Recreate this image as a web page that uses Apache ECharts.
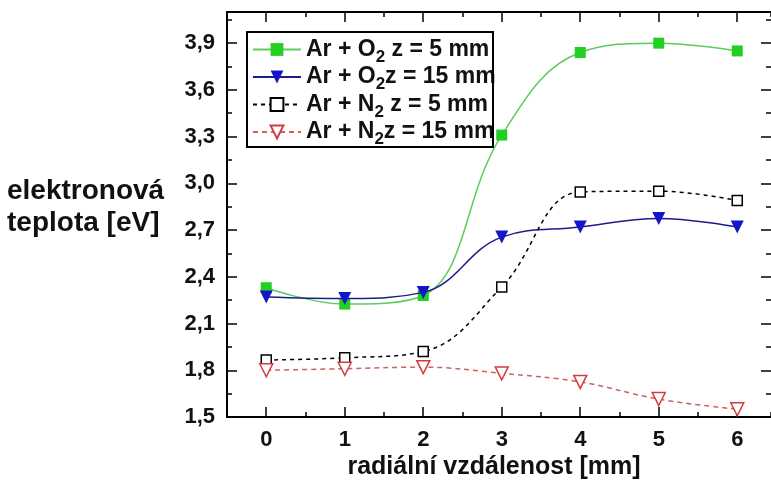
<!DOCTYPE html>
<html>
<head>
<meta charset="utf-8">
<script src="https://cdn.jsdelivr.net/npm/echarts@6/dist/echarts.min.js"></script>
<style>
  html, body { margin: 0; padding: 0; background: #fff; }
  #chart { width: 771px; height: 494px; }
</style>
</head>
<body>
<div id="chart"></div>
<script>
// radial distance [mm]
const distances = [0, 1, 2, 3, 4, 5, 6];

// electron temperature [eV]
const arO2z5  = [2.33, 2.225, 2.28, 3.31, 3.84, 3.90, 3.85];
const arO2z15 = [2.27, 2.26, 2.30, 2.655, 2.72, 2.775, 2.72];
const arN2z5  = [1.866, 1.88, 1.92, 2.335, 2.945, 2.95, 2.89];
const arN2z15 = [1.80, 1.81, 1.82, 1.78, 1.725, 1.615, 1.55];

const seriesNames = ['Ar + O2 z = 5 mm', 'Ar + O2 z = 15 mm', 'Ar + N2 z = 5 mm', 'Ar + N2 z = 15 mm'];
const legendLabels = ['Ar + O{s|2} z = 5 mm', 'Ar + O{s|2}z = 15 mm', 'Ar + N{s|2} z = 5 mm', 'Ar + N{s|2}z = 15 mm'];

const xTickValues = [0, 1, 2, 3, 4, 5, 6];
const yTickValues = [1.5, 1.8, 2.1, 2.4, 2.7, 3.0, 3.3, 3.6, 3.9];

const FONT = '"Liberation Sans", Arial, sans-serif';
const X_MIN = -0.5, X_MAX = 6.43, Y_MIN = 1.5, Y_MAX = 4.1;

const pairs = v => distances.map((d, i) => [d, v[i]]);

// one axis with short half-step ticks (+labels and line) and an overlaid one with long major ticks
function xAxes(position, withLabels, showLine) {
  return [
    {
      type: 'value', position, min: X_MIN, max: X_MAX, interval: 0.5,
      axisLine: { show: showLine, onZero: false, lineStyle: { color: '#000', width: 2 } },
      axisTick: { show: true, inside: true, length: 5, lineStyle: { color: '#000', width: 1.5 } },
      axisLabel: withLabels ? {
        show: true, customValues: xTickValues, margin: 12,
        color: '#111', fontFamily: FONT, fontWeight: 'bold', fontSize: 22,
        formatter: v => String(v)
      } : { show: false },
      splitLine: { show: false }
    },
    {
      type: 'value', position, min: X_MIN, max: X_MAX,
      axisLine: { show: false, onZero: false },
      axisTick: { show: true, inside: true, length: 10, customValues: xTickValues, lineStyle: { color: '#000', width: 1.5 } },
      axisLabel: { show: false },
      splitLine: { show: false }
    }
  ];
}
function yAxes(position, withLabels, showLine) {
  return [
    {
      type: 'value', position, min: Y_MIN, max: Y_MAX, interval: 0.15,
      axisLine: { show: showLine, onZero: false, lineStyle: { color: '#000', width: 2 } },
      axisTick: { show: true, inside: true, length: 5, lineStyle: { color: '#000', width: 1.5 } },
      axisLabel: withLabels ? {
        show: true, customValues: yTickValues, margin: 12,
        color: '#111', fontFamily: FONT, fontWeight: 'bold', fontSize: 22,
        formatter: v => v.toFixed(1).replace('.', ',')
      } : { show: false },
      splitLine: { show: false }
    },
    {
      type: 'value', position, min: Y_MIN, max: Y_MAX,
      axisLine: { show: false, onZero: false },
      axisTick: { show: true, inside: true, length: 10, customValues: yTickValues, lineStyle: { color: '#000', width: 1.5 } },
      axisLabel: { show: false },
      splitLine: { show: false }
    }
  ];
}

const chart = echarts.init(document.getElementById('chart'), null, { renderer: 'canvas' });

chart.setOption({
  backgroundColor: '#fff',
  animation: false,
  grid: { left: 227, top: 12, width: 544, height: 405 },
  xAxis: [...xAxes('bottom', true, true), ...xAxes('top', false, true)],
  yAxis: [...yAxes('left', true, true), ...yAxes('right', false, false)],
  title: [
    {
      text: 'elektronová\nteplota [eV]', left: 7, top: 175, padding: 0,
      textStyle: { fontFamily: FONT, fontWeight: 'bold', fontSize: 28, lineHeight: 32, color: '#111' }
    },
    {
      text: 'radiální vzdálenost [mm]', left: 494, top: 455, padding: 0, textAlign: 'center',
      textStyle: { fontFamily: FONT, fontWeight: 'bold', fontSize: 25, color: '#111' }
    }
  ],
  legend: {
    orient: 'vertical', left: 252, top: 38, padding: 0,
    itemWidth: 48, itemHeight: 16, itemGap: 0,
    backgroundColor: 'transparent',
    formatter: name => legendLabels[seriesNames.indexOf(name)],
    textStyle: {
      fontFamily: FONT, fontWeight: 'bold', fontSize: 23, color: '#111',
      rich: { s: { fontFamily: FONT, fontWeight: 'bold', fontSize: 17, color: '#111', padding: [15, 0, 0, 0] } }
    },
    data: seriesNames
  },
  graphic: [
    {
      type: 'rect', z: 100, silent: true,
      shape: { x: 247, y: 32, width: 246, height: 115 },
      style: { fill: 'none', stroke: '#000', lineWidth: 2 }
    }
  ],
  series: [
    {
      name: seriesNames[0], type: 'line', data: pairs(arO2z5), smooth: 0.4,
      symbol: 'rect', symbolSize: 11,
      itemStyle: { color: '#22d022' },
      lineStyle: { color: '#5ccc5c', width: 1.5 }, z: 3
    },
    {
      name: seriesNames[1], type: 'line', data: pairs(arO2z15), smooth: 0.4,
      symbol: 'triangle', symbolRotate: 180, symbolSize: 13,
      itemStyle: { color: '#1414c8' },
      lineStyle: { color: '#1c1c88', width: 1.5 }, z: 4
    },
    {
      name: seriesNames[2], type: 'line', data: pairs(arN2z5), smooth: 0.4,
      symbol: 'rect', symbolSize: 10,
      itemStyle: { color: '#fff', borderColor: '#000', borderWidth: 1.5 },
      lineStyle: { color: '#000', width: 1.5, type: [4, 4] }, z: 2
    },
    {
      name: seriesNames[3], type: 'line', data: pairs(arN2z15), smooth: 0.4,
      symbol: 'triangle', symbolRotate: 180, symbolSize: 13,
      itemStyle: { color: '#fff', borderColor: '#d23c3c', borderWidth: 1.5 },
      lineStyle: { color: '#d06060', width: 1.5, type: [5, 4] }, z: 2
    }
  ]
});
</script>
</body>
</html>
